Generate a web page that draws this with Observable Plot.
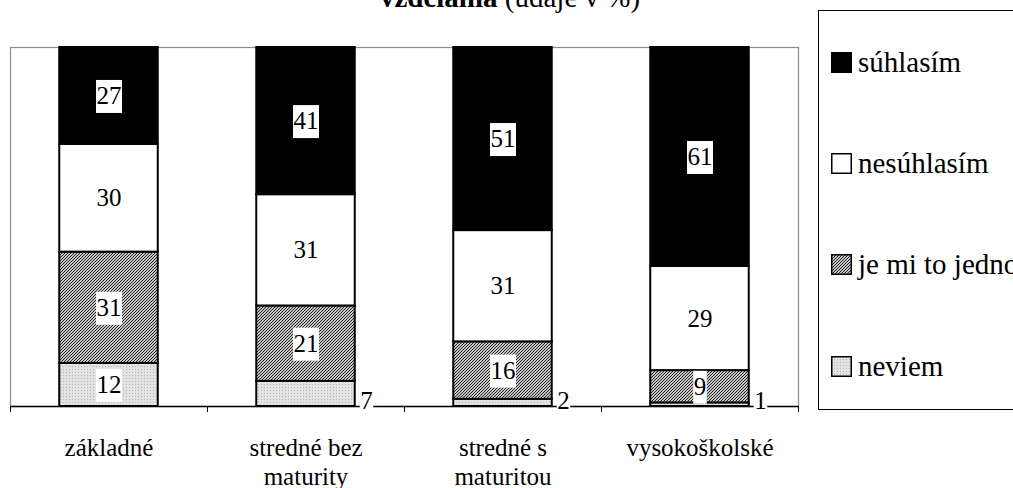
<!DOCTYPE html>
<html>
<head>
<meta charset="utf-8">
<script src="https://cdn.jsdelivr.net/npm/d3@7"></script>
<script src="https://cdn.jsdelivr.net/npm/@observablehq/plot@0.6"></script>
<style>
  html, body { margin: 0; padding: 0; background: #fff; }
  body { font-family: "Liberation Serif", "LiberationSerif", "DejaVu Serif", serif; color: #000; }
  #wrap { position: relative; width: 1013px; height: 488px; overflow: hidden; background: #fff; }
  #chart { position: absolute; left: 0; top: 0; }
  #title { position: absolute; left: 510px; top: -17px; transform: translateX(-50%);
           font-size: 29px; line-height: 29px; white-space: nowrap; }
  #legend { position: absolute; left: 818px; top: 10px; width: 240px; height: 400px;
            border: 1px solid #000; box-sizing: border-box; background: #fff; }
  .item { position: absolute; left: 12px; height: 29px; font-size: 29px; line-height: 29px; white-space: nowrap; }
  .item svg { position: absolute; left: 0; top: 4px; }
  .item span { position: absolute; left: 27px; top: 0; }
</style>
</head>
<body>
<svg width="0" height="0" style="position:absolute">
  <defs>
    <pattern id="hatch" patternUnits="userSpaceOnUse" width="3" height="3">
      <rect width="3" height="3" fill="#fff"/>
      <path d="M-1,1 l2,-2 M0,3 l3,-3 M2,4 l2,-2" stroke="#222" stroke-width="1.1"/>
    </pattern>
    <pattern id="dots" patternUnits="userSpaceOnUse" width="3" height="3">
      <rect width="3" height="3" fill="#e2e2e2"/>
      <rect x="0" y="0" width="1" height="1" fill="#b8b8b8"/>
    </pattern>
  </defs>
</svg>
<div id="wrap">
  <div id="chart"></div>
  <div id="title"><b>vzdelania</b> (údaje v %)</div>
  <div id="legend"></div>
</div>
<script>
// ---- data ----
const categories = ["základné", "stredné bez maturity", "stredné s maturitou", "vysokoškolské"];
const categoryLabels = ["základné", "stredné bez\nmaturity", "stredné s\nmaturitou", "vysokoškolské"];
const series = ["súhlasím", "nesúhlasím", "je mi to jedno", "neviem"];
const suhlasim   = [27, 41, 51, 61];
const nesuhlasim = [30, 31, 31, 29];
const jedno      = [31, 21, 16, 9];
const neviem     = [12, 7, 2, 1];
const seriesFills = ["#000", "#fff", "url(#hatch)", "url(#dots)"];

// ---- table (bottom segment first) ----
const valuesBySeries = {"súhlasím": suhlasim, "nesúhlasím": nesuhlasim, "je mi to jedno": jedno, "neviem": neviem};
const stackOrder = ["neviem", "je mi to jedno", "nesúhlasím", "súhlasím"];
const rows = [];
categories.forEach((c, i) => {
  stackOrder.forEach(s => rows.push({category: c, series: s, value: valuesBySeries[s][i]}));
});
const isOutside = d => d.value < 8;
const labelOf = Object.fromEntries(categories.map((c, i) => [c, categoryLabels[i]]));

// ---- layout ----
const W = 1013, H = 488, mL = 10, mR = 215, mT = 47, mB = 82;
const bw = (W - mL - mR) / categories.length;
const serif = "'Liberation Serif', 'LiberationSerif', 'DejaVu Serif', serif";

const chart = Plot.plot({
  width: W, height: H,
  marginLeft: mL, marginRight: mR, marginTop: mT, marginBottom: mB,
  style: {fontFamily: serif, fontSize: "25px", color: "#000", background: "#fff"},
  x: {type: "band", domain: categories, padding: 0, axis: null, label: null},
  y: {domain: [0, 100], axis: null, label: null},
  color: {type: "ordinal", domain: series, range: seriesFills},
  marks: [
    Plot.frame({stroke: "#8c8c8c", strokeWidth: 1.2}),
    Plot.barY(rows, Plot.stackY({
      x: "category", y: "value", z: "series", fill: "series",
      stroke: "#000", strokeWidth: 2, insetLeft: bw / 4, insetRight: bw / 4
    })),
    Plot.ruleY([0], {stroke: "#000", strokeWidth: 1.5}),
    Plot.axisX({tickSize: 6, tickFormat: () => "", dx: -bw / 2, stroke: "#000", label: null}),
    Plot.axisX([categories[categories.length - 1]], {tickSize: 6, tickFormat: () => "", dx: bw / 2, stroke: "#000", label: null}),
    Plot.axisX({tickSize: 0, tickPadding: 29, fontSize: 25, lineHeight: 1.16, tickFormat: d => labelOf[d], fill: "#000", label: null}),
    Plot.text(rows, Plot.stackY({
      x: "category", y: "value", z: "series",
      text: d => isOutside(d) ? "" : String(d.value),
      fontSize: 25, fill: "#000", lineAnchor: "middle"
    })),
    Plot.text(rows.filter(isOutside), {
      x: "category", text: d => String(d.value), frameAnchor: "bottom",
      textAnchor: "start", lineAnchor: "middle", dx: bw / 4 + 5, dy: -6, fontSize: 25, fill: "#000"
    })
  ]
});
document.getElementById("chart").appendChild(chart);

// white boxes behind data labels
chart.querySelectorAll('g[aria-label="text"] text').forEach(t => {
  if (!t.textContent.trim()) return;
  const b = t.getBBox();
  const r = document.createElementNS("http://www.w3.org/2000/svg", "rect");
  r.setAttribute("x", b.x - 0.5);
  r.setAttribute("y", b.y - 2);
  r.setAttribute("width", b.width + 1);
  r.setAttribute("height", b.height + 6);
  r.setAttribute("fill", "#fff");
  if (t.getAttribute("transform")) r.setAttribute("transform", t.getAttribute("transform"));
  t.parentNode.insertBefore(r, t);
});

// legend
const legend = document.getElementById("legend");
const baselines = [61, 162, 263, 365];
series.forEach((s, i) => {
  const item = document.createElement("div");
  item.className = "item";
  item.style.top = (baselines[i] - 24) + "px";
  item.innerHTML = `<svg width="21" height="21"><rect x="0.75" y="0.75" width="19.5" height="19.5" fill="${seriesFills[i]}" stroke="#000" stroke-width="1.5"/></svg><span>${s}</span>`;
  legend.appendChild(item);
});
</script>
</body>
</html>
